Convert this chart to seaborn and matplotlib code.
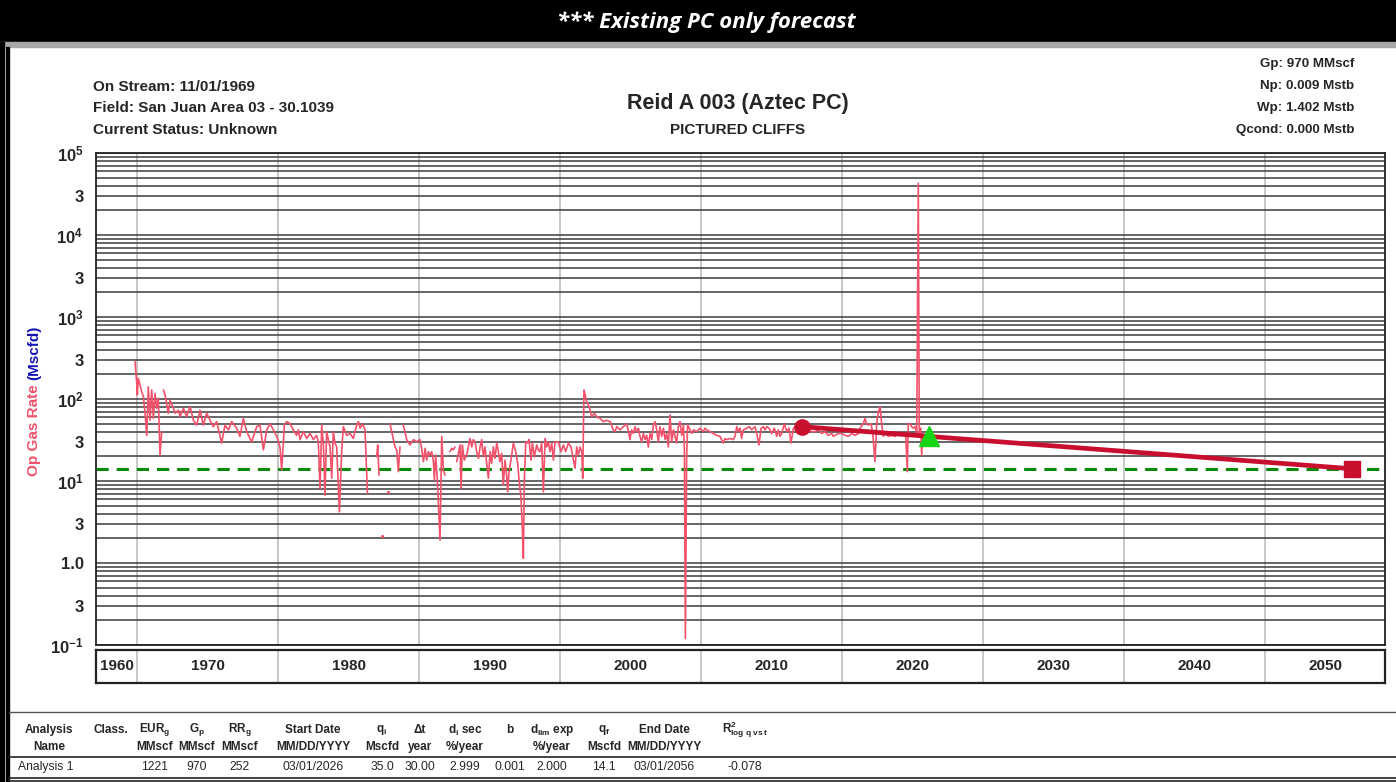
import numpy as np
import pandas as pd
import matplotlib
matplotlib.use('Agg')
import matplotlib.pyplot as plt
import seaborn as sns
from matplotlib.patches import Rectangle
from matplotlib.lines import Line2D

# monthly-ish gas rate (Mscfd), NaN = gap in the record
prod_year = [
    1969.86, 1969.98, 1970.02, 1970.09, 1970.21, 1970.33, 1970.45, 1970.57, 1970.69, 1970.80,
    1970.92, 1971.04, 1971.16, 1971.28, 1971.39, 1971.51, 1971.63, 1971.75, np.nan,
    1971.87, 1971.99, 1972.22, 1972.34, 1972.58, 1972.70, 1972.93, 1973.05, 1973.29, 1973.52,
    1973.76, 1974.00, 1974.23, 1974.47, 1974.70, 1974.94, 1975.18, 1975.41, 1975.65, 1976.00,
    1976.24, 1976.48, 1976.71, 1977.07, 1977.30, 1977.54, 1977.78, 1978.13, 1978.49, 1978.72,
    1978.96, 1979.20, 1979.43, 1979.67, 1979.91, 1980.14, 1980.26, 1980.45, 1980.61, 1980.85,
    1981.09, 1981.32, 1981.44, 1981.56, 1981.80, 1982.03, 1982.27, 1982.51, 1982.74, 1982.86,
    1982.98, 1983.10, 1983.22, 1983.33, 1983.45, 1983.57, 1983.69, 1983.81, 1983.92, 1984.04,
    1984.16, 1984.35, 1984.52, 1984.63, 1984.87, 1985.11, 1985.34, 1985.46, 1985.58, 1985.70,
    1985.82, 1986.00, 1986.17, 1986.34, np.nan,
    1987.00, 1987.07, 1987.16, np.nan,
    1987.94, 1988.30, 1988.42, 1988.53, 1988.65, np.nan,
    1988.89, 1989.13, 1989.36, 1989.60, 1989.83, 1990.07, 1990.19, 1990.31, 1990.43, 1990.54,
    1990.66, 1990.78, 1990.90, 1991.02, 1991.09, 1991.18, 1991.30, 1991.49, 1991.61, 1991.73,
    1991.84, np.nan,
    1992.20, 1992.32, 1992.43, 1992.55, np.nan,
    1992.67, 1992.79, 1992.91, 1992.98, 1993.07, 1993.21, 1993.38, 1993.50, 1993.62, 1993.74,
    1993.85, 1993.97, 1994.09, 1994.21, 1994.33, 1994.44, 1994.56, 1994.68, 1994.80, 1994.92,
    1995.04, 1995.15, 1995.27, 1995.39, 1995.51, 1995.63, 1995.74, 1995.86, 1995.98, 1996.10,
    1996.22, 1996.29, 1996.38, 1996.52, 1996.69, 1996.86, 1997.00, 1997.09, 1997.23, 1997.33,
    1997.40, 1997.47, 1997.57, 1997.71, 1997.80, 1997.94, 1998.04, 1998.18, 1998.35, 1998.46,
    1998.58, 1998.70, 1998.82, 1998.94, 1999.05, 1999.17, 1999.29, 1999.41, 1999.53, 1999.65,
    1999.88, 2000.07, 2000.24, 2000.40, 2000.59, 2000.78, 2000.95, 2001.06, 2001.18, 2001.30,
    2001.42, 2001.54, 2001.61, 2001.70, 2001.89, 2002.06, 2002.25, 2002.43, 2002.60, 2002.84,
    2003.07, 2003.31, 2003.55, 2003.78, 2003.90, 2004.02, 2004.26, 2004.49, 2004.73, 2004.85,
    2004.96, 2005.08, 2005.20, 2005.32, 2005.44, 2005.56, 2005.67, 2005.79, 2005.91, 2006.03,
    2006.15, 2006.26, 2006.38, 2006.50, 2006.62, 2006.74, 2006.86, 2006.97, 2007.09, 2007.21,
    2007.33, 2007.45, 2007.57, 2007.68, 2007.80, 2007.92, 2008.04, 2008.16, 2008.27, 2008.39,
    2008.51, 2008.63, 2008.75, 2008.82, 2008.89, 2008.98, 2009.05, 2009.17, 2009.34, 2009.46,
    2009.69, 2009.93, 2010.17, 2010.28, 2010.40, 2010.64, 2010.87, 2011.11, 2011.35, 2011.58,
    2011.70, 2011.82, 2012.06, 2012.29, 2012.41, 2012.53, 2012.65, 2012.77, 2012.88, 2013.00,
    2013.24, 2013.43, 2013.59, 2013.83, 2013.95, 2014.11, 2014.26, 2014.42, 2014.54, 2014.66,
    2014.82, 2015.01, 2015.20, 2015.37, 2015.48, 2015.60, 2015.72, 2015.91, 2016.08, 2016.24,
    2016.38, 2016.55, 2016.78, 2017.14, 2017.38, 2017.61, 2017.85, 2018.09, 2018.32, 2018.56,
    2018.79, 2019.03, 2019.27, 2019.39, 2019.50, 2019.74, 2019.98, 2020.21, 2020.45, 2020.69,
    2020.92, 2021.16, 2021.28, 2021.51, 2021.63, 2021.75, 2021.87, 2022.06, 2022.18, 2022.34,
    2022.46, 2022.58, 2022.70, 2022.81, 2022.93, 2023.05, 2023.29, 2023.52, 2023.76, 2024.00,
    2024.23, 2024.42, 2024.52, 2024.63, 2024.70, 2024.82, 2024.94, 2025.06, 2025.18, 2025.30,
    2025.41, 2025.48, 2025.58, 2025.65, 2025.72, 2025.82,
]
prod_rate = [
    285, 155, 112, 179, 148, 123, 107, 67, 36, 141,
    55, 129, 58, 117, 77, 102, 20.7, 40, np.nan,
    129, 112, 67, 97, 77, 67, 73, 61, 77, 61,
    81, 55, 48, 73, 48, 67, 55, 46, 53, 29,
    48, 42, 53, 44, 35, 58, 40, 30, 46, 48,
    24, 42, 50, 42, 35, 26, 13.6, 48, 53, 50,
    42, 36, 42, 32, 40, 33, 38, 32, 36, 30,
    8.1, 48, 27.5, 6.7, 40, 32, 26, 10.8, 40, 29,
    26, 4.2, 24, 46, 36, 38, 33, 40, 48, 53,
    44, 50, 42, 7.1, np.nan,
    19.8, 27.5, 11.8, np.nan,
    50, 26, 24, 13, 26, np.nan,
    48, 32, 27.5, 32, 30, 32, 25, 17.2, 25, 18,
    22.8, 20.7, 22.8, 17.2, 10.3, 20.7, 10.3, 1.9, 35, 13.6,
    11.8, np.nan,
    22.8, 25, 24, 26, np.nan,
    17.2, 21.7, 27.5, 8.1, 27.5, 18, 20.7, 26, 33, 26,
    32, 30, 22.8, 18.9, 26, 32, 19.8, 26, 16.4, 10.8,
    22.8, 16.4, 26, 18.9, 29, 22.8, 17.2, 21.7, 8.9, 18,
    11.3, 7.4, 13, 18, 29, 22.8, 16.4, 10.3, 6.4, 2.5,
    1.14, 10.3, 30, 29, 32, 18, 29, 19.8, 27.5, 24,
    22.8, 29, 7.4, 33, 26, 30, 22.8, 29, 18, 30,
    30, 22.8, 27.5, 22.8, 29, 26, 18, 14.3, 26, 20.7,
    26, 22.8, 10.8, 129, 93, 81, 61, 67, 61, 58,
    53, 55, 53, 42, 40, 46, 42, 46, 50, 40,
    32, 42, 38, 46, 40, 44, 35, 30, 38, 32,
    36, 26, 38, 32, 48, 53, 42, 30, 46, 35,
    44, 32, 38, 26, 64, 30, 42, 35, 29, 46,
    53, 36, 48, 25, 0.12, 19.8, 48, 44, 38, 42,
    40, 44, 40, 44, 42, 40, 38, 36, 35, 29,
    33, 32, 33, 32, 35, 46, 40, 44, 33, 42,
    44, 46, 42, 46, 38, 27.5, 44, 46, 42, 46,
    44, 38, 44, 35, 42, 35, 38, 50, 40, 44,
    29, 44, 46, 46, 44, 42, 40, 40, 42, 38,
    40, 36, 38, 35, 36, 38, 38, 36, 35, 38,
    36, 38, 44, 50, 58, 50, 48, 50, 38, 17.2,
    50, 70, 81, 50, 35, 38, 35, 36, 35, 40,
    38, 38, 35, 13, 50, 50, 46, 44, 46, 38,
    42700, 38, 44, 20.7, 38, 35,
]
# lone monthly points with no neighbours
dot_year = [1987.40, 1987.83]
dot_rate = [2.13, 7.4]

# forecast: fit start, forecast start (03/01/2026), end (03/01/2056)
fc_year = [2017.14, 2026.16, 2056.16]
fc_rate = [46.0, 35.0, 14.1]
q_limit = 14.1

ytick_vals = [0.1, 0.3, 1, 3, 10, 30, 100, 300, 1000, 3000, 1e4, 3e4, 1e5]
ytick_text = [r'$\mathbf{10^{-1}}$', '3', '1.0', '3', r'$\mathbf{10^{1}}$', '3', r'$\mathbf{10^{2}}$',
              '3', r'$\mathbf{10^{3}}$', '3', r'$\mathbf{10^{4}}$', '3', r'$\mathbf{10^{5}}$']
decades = [1960, 1970, 1980, 1990, 2000, 2010, 2020, 2030, 2040, 2050]

hdr1 = ['Analysis', 'Class.', r'EUR$_\mathbf{g}$', r'G$_\mathbf{p}$', r'RR$_\mathbf{g}$', 'Start Date',
        r'q$_\mathbf{i}$', 'Δt', r'd$_\mathbf{i}$ sec', 'b', r'd$_\mathbf{lim}$ exp', r'q$_\mathbf{f}$',
        'End Date', r'R$^\mathbf{2}_\mathbf{log\ q\ vs\ t}$']
hdr2 = ['Name', '', 'MMscf', 'MMscf', 'MMscf', 'MM/DD/YYYY', 'Mscfd', 'year', '%/year', '',
        '%/year', 'Mscfd', 'MM/DD/YYYY', '']
row1 = ['Analysis 1', '', '1221', '970', '252', '03/01/2026', '35.0', '30.00', '2.999', '0.001',
        '2.000', '14.1', '03/01/2056', '-0.078']

PINK = '#F2516B'
CRIMSON = '#C8102E'

sns.set_style('white')
plt.rcParams['font.family'] = ['Liberation Sans', 'DejaVu Sans']
plt.rcParams['mathtext.fontset'] = 'custom'
plt.rcParams['mathtext.rm'] = 'Liberation Sans'
plt.rcParams['mathtext.bf'] = 'Liberation Sans:bold'
plt.rcParams['mathtext.it'] = 'Liberation Sans:italic'

W, H = 1396, 782
def fx(px): return px / W
def fy(py): return 1 - py / H

fig = plt.figure(figsize=(13.96, 7.82), dpi=100)

# frame pieces
fig.add_artist(Rectangle((0, fy(42)), 1, 42 / H, transform=fig.transFigure, color='black', zorder=0))
fig.add_artist(Rectangle((0, fy(47)), 1, 5 / H, transform=fig.transFigure, color='#a8a8a8', zorder=0))
fig.add_artist(Rectangle((0, 0), fx(4), fy(42), transform=fig.transFigure, color='black', zorder=0))
fig.add_artist(Rectangle((fx(6), 0), fx(3), fy(47), transform=fig.transFigure, color='black', zorder=0))
fig.text(fx(706), fy(22), '*** Existing PC only forecast', color='white', fontsize=16,
         fontweight='bold', fontstyle='italic', family=['Open Sans', 'DejaVu Sans'],
         ha='center', va='center')

# header info
for txt, py in [('On Stream: 11/01/1969', 87), ('Field: San Juan Area 03 - 30.1039', 108),
                ('Current Status: Unknown', 130)]:
    fig.text(fx(93), fy(py), txt, fontsize=11, fontweight='bold', ha='left', va='center')
for txt, py in [('Gp: 970 MMscf', 64), ('Np: 0.009 Mstb', 86), ('Wp: 1.402 Mstb', 108),
                ('Qcond: 0.000 Mstb', 130)]:
    fig.text(fx(1354), fy(py), txt, fontsize=9.6, fontweight='bold', ha='right', va='center')
fig.text(fx(738), fy(104), 'Reid A 003 (Aztec PC)', fontsize=15.5, fontweight='bold', ha='center', va='center')
fig.text(fx(738), fy(130), 'PICTURED CLIFFS', fontsize=11, fontweight='bold', ha='center', va='center')

# main plot
xmin, xmax = 1967.09, 2058.51
ax = fig.add_axes([fx(96), fy(645), fx(1385) - fx(96), fy(153) - fy(645)])
ax.set_yscale('log')

df = pd.DataFrame({'year': prod_year, 'rate': prod_rate})
df['seg'] = df['rate'].isna().cumsum()
df = df.dropna()
sns.lineplot(data=df, x='year', y='rate', units='seg', estimator=None, sort=False,
             color=PINK, linewidth=1.2, ax=ax, legend=False, zorder=3)
sns.scatterplot(x=dot_year, y=dot_rate, color=PINK, s=5, linewidth=0, ax=ax, zorder=3)

ax.axhline(q_limit, color='#0A8A0A', linestyle=(0, (4, 2.6)), linewidth=2.2, zorder=2)
sns.lineplot(x=fc_year, y=fc_rate, color=CRIMSON, linewidth=3.4, ax=ax, zorder=4)
ax.plot(fc_year[0], fc_rate[0], 'o', ms=11, color=CRIMSON, zorder=5)
ax.plot(fc_year[1], fc_rate[1], '^', ms=14, color='#16D416', zorder=5)
ax.plot(fc_year[2], fc_rate[2], 's', ms=11, color=CRIMSON, zorder=5)

ax.set_xlim(xmin, xmax)
ax.set_ylim(0.1, 1e5)
ax.set_xticks(decades[1:])
ax.set_xticklabels([])
ax.tick_params(axis='x', length=0)
minor = [k * 10.0 ** e for e in range(-1, 5) for k in (2, 4, 5, 6, 7, 8, 9)]
ax.set_yticks(ytick_vals)
ax.set_yticks(minor, minor=True)
ax.set_yticklabels(ytick_text)
ax.yaxis.set_minor_formatter(matplotlib.ticker.NullFormatter())
ax.tick_params(axis='y', which='major', length=6, width=1, pad=3, labelsize=12)
ax.tick_params(axis='y', which='minor', length=3, width=1)
for lab in ax.get_yticklabels():
    lab.set_fontweight('bold')
ax.grid(axis='y', which='both', color='#3c3c3c', linewidth=1.1)
ax.grid(axis='x', which='major', color='#c4c4c4', linewidth=1.3)
ax.set_axisbelow(True)
ax.set_xlabel('')
ax.set_ylabel('')
for sp in ax.spines.values():
    sp.set_color('#222222')
    sp.set_linewidth(1.3)

# two-colour y label, second part placed right after the first
t1 = fig.text(fx(34), fy(476), 'Op Gas Rate', rotation=90, rotation_mode='anchor', color=PINK,
              fontsize=11, fontweight='bold', ha='left', va='center')
fig.canvas.draw()
top = t1.get_window_extent().y1
fig.text(fx(34), (top + 4) / fig.bbox.height, '(Mscfd)', rotation=90, rotation_mode='anchor',
         color='#1515B5', fontsize=11, fontweight='bold', ha='left', va='center')

# year strip
ax2 = fig.add_axes([fx(96), fy(683), fx(1385) - fx(96), fy(650) - fy(683)])
ax2.set_xlim(xmin, xmax)
ax2.set_ylim(0, 1)
ax2.set_xticks([])
ax2.set_yticks([])
for d in decades[1:]:
    ax2.axvline(d, color='#c4c4c4', linewidth=1.3)
for d in decades:
    lo, hi = max(d, xmin), min(d + 10, xmax)
    ax2.text((lo + hi) / 2, 0.5, str(d), fontsize=11, fontweight='bold', ha='center', va='center')
for sp in ax2.spines.values():
    sp.set_color('#222222')
    sp.set_linewidth(1.6)

# results table
col_x = [49, 111, 155, 197, 240, 313, 382, 420, 465, 510, 552, 604, 664, 745]
fig.add_artist(Line2D([fx(9), 1], [fy(712), fy(712)], transform=fig.transFigure, color='#555555', lw=1))
fig.add_artist(Line2D([fx(9), 1], [fy(757), fy(757)], transform=fig.transFigure, color='#222222', lw=1.2))
fig.add_artist(Line2D([fx(9), 1], [fy(778), fy(778)], transform=fig.transFigure, color='#222222', lw=1.2))
fig.add_artist(Line2D([fx(9), 1], [fy(781), fy(781)], transform=fig.transFigure, color='#222222', lw=1.2))
for cx, a, b, c in zip(col_x, hdr1, hdr2, row1):
    fig.text(fx(cx), fy(730), a, fontsize=8.5, fontweight='bold', ha='center', va='center')
    if b:
        fig.text(fx(cx), fy(747), b, fontsize=8.5, fontweight='bold', ha='center', va='center')
    if c and cx != col_x[0]:
        fig.text(fx(cx), fy(767), c, fontsize=8.7, ha='center', va='center')
fig.text(fx(18), fy(767), row1[0], fontsize=8.7, ha='left', va='center')

fig.savefig('out.png', dpi=100)
